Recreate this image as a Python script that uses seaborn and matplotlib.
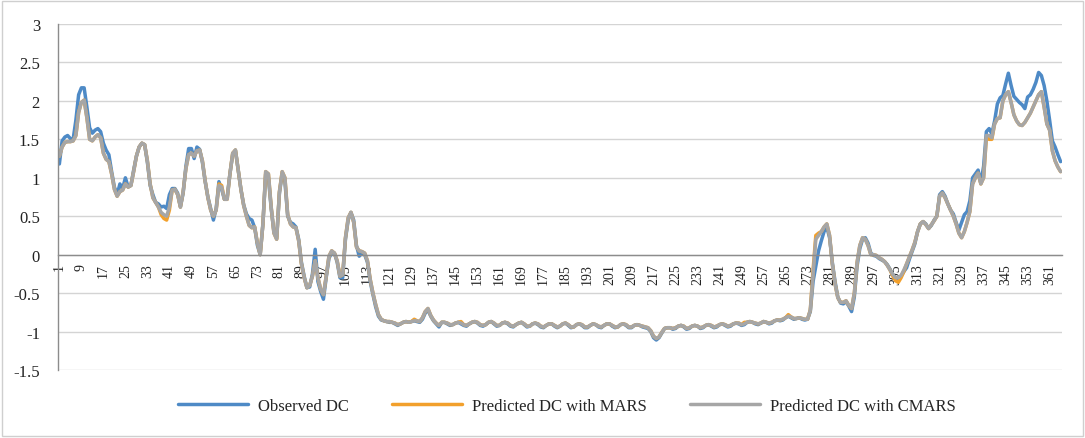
import numpy as np
import pandas as pd
import seaborn as sns
import matplotlib.pyplot as plt
from matplotlib.patches import Rectangle

# Daily discharge coefficient, days 1..365
days = list(range(1, 366))

observed = [
    1.18, 1.48, 1.53, 1.55, 1.51, 1.50, 1.75, 2.08,
    2.17, 2.17, 1.92, 1.65, 1.58, 1.62, 1.64, 1.60,
    1.45, 1.36, 1.30, 1.08, 0.88, 0.78, 0.92, 0.86,
    1.00, 0.88, 0.90, 1.10, 1.28, 1.40, 1.45, 1.43,
    1.20, 0.90, 0.78, 0.68, 0.66, 0.62, 0.63, 0.60,
    0.78, 0.86, 0.86, 0.80, 0.62, 0.80, 1.15, 1.38,
    1.38, 1.25, 1.40, 1.37, 1.20, 0.95, 0.75, 0.60,
    0.45, 0.60, 0.95, 0.85, 0.72, 0.75, 1.05, 1.30,
    1.36, 1.10, 0.85, 0.65, 0.53, 0.47, 0.45, 0.35,
    0.12, 0.00, 0.40, 1.05, 1.00, 0.60, 0.30, 0.22,
    0.80, 1.05, 0.95, 0.50, 0.42, 0.40, 0.36, 0.20,
    -0.10, -0.28, -0.43, -0.42, -0.25, 0.07, -0.35, -0.48,
    -0.58, -0.30, -0.05, 0.03, 0.02, -0.10, -0.30, -0.30,
    0.20, 0.45, 0.55, 0.45, 0.12, -0.02, 0.02, 0.00,
    -0.10, -0.35, -0.52, -0.68, -0.80, -0.85, -0.86, -0.87,
    -0.88, -0.88, -0.90, -0.92, -0.90, -0.88, -0.87, -0.88,
    -0.87, -0.86, -0.87, -0.88, -0.84, -0.76, -0.72, -0.80,
    -0.86, -0.90, -0.94, -0.88, -0.88, -0.90, -0.92, -0.91,
    -0.89, -0.88, -0.90, -0.92, -0.93, -0.90, -0.88, -0.87,
    -0.89, -0.92, -0.93, -0.91, -0.88, -0.87, -0.90, -0.93,
    -0.92, -0.89, -0.88, -0.90, -0.93, -0.94, -0.91, -0.89,
    -0.88, -0.91, -0.94, -0.93, -0.90, -0.89, -0.91, -0.94,
    -0.95, -0.92, -0.90, -0.90, -0.93, -0.95, -0.93, -0.90,
    -0.89, -0.92, -0.95, -0.94, -0.91, -0.90, -0.92, -0.95,
    -0.95, -0.92, -0.90, -0.91, -0.94, -0.95, -0.92, -0.90,
    -0.90, -0.93, -0.95, -0.94, -0.91, -0.90, -0.92, -0.95,
    -0.95, -0.92, -0.91, -0.92, -0.94, -0.95, -0.96, -1.00,
    -1.08, -1.11, -1.08, -1.02, -0.96, -0.95, -0.95, -0.97,
    -0.96, -0.93, -0.92, -0.94, -0.97, -0.96, -0.93, -0.92,
    -0.93, -0.96, -0.95, -0.92, -0.91, -0.93, -0.95, -0.94,
    -0.91, -0.90, -0.92, -0.94, -0.93, -0.90, -0.89, -0.90,
    -0.92, -0.91, -0.88, -0.87, -0.88, -0.90, -0.91, -0.89,
    -0.87, -0.88, -0.90, -0.89, -0.86, -0.85, -0.86, -0.85,
    -0.82, -0.80, -0.82, -0.84, -0.83, -0.82, -0.84, -0.85,
    -0.84, -0.74, -0.35, -0.15, 0.05, 0.18, 0.30, 0.36,
    0.22, -0.10, -0.35, -0.55, -0.63, -0.64, -0.61, -0.67,
    -0.74, -0.55, -0.15, 0.08, 0.20, 0.22, 0.15, 0.02,
    -0.01, -0.02, -0.05, -0.07, -0.09, -0.13, -0.19, -0.26,
    -0.30, -0.32, -0.28, -0.22, -0.17, -0.06, 0.04, 0.14,
    0.30, 0.40, 0.43, 0.40, 0.34, 0.38, 0.45, 0.50,
    0.78, 0.82, 0.76, 0.66, 0.58, 0.53, 0.42, 0.32,
    0.42, 0.52, 0.56, 0.70, 1.00, 1.05, 1.10, 0.93,
    1.15, 1.60, 1.64, 1.57, 1.74, 1.96, 2.04, 2.07,
    2.22, 2.36, 2.20, 2.06, 2.02, 1.98, 1.95, 1.90,
    2.05, 2.08, 2.15, 2.24, 2.37, 2.33, 2.20, 2.00,
    1.75, 1.48, 1.40, 1.30, 1.21,
]

mars = [
    1.28, 1.40, 1.46, 1.47, 1.47, 1.48, 1.55, 1.85,
    1.98, 2.01, 1.78, 1.50, 1.48, 1.53, 1.56, 1.52,
    1.32, 1.24, 1.21, 1.05, 0.85, 0.76, 0.82, 0.84,
    0.92, 0.88, 0.90, 1.08, 1.28, 1.40, 1.45, 1.43,
    1.22, 0.92, 0.74, 0.68, 0.62, 0.52, 0.47, 0.45,
    0.58, 0.84, 0.85, 0.78, 0.62, 0.82, 1.12, 1.30,
    1.32, 1.28, 1.35, 1.36, 1.22, 0.96, 0.74, 0.58,
    0.50, 0.58, 0.92, 0.90, 0.72, 0.72, 1.05, 1.32,
    1.36, 1.10, 0.85, 0.64, 0.50, 0.38, 0.35, 0.36,
    0.15, 0.00, 0.40, 1.08, 1.05, 0.62, 0.28, 0.20,
    0.82, 1.08, 1.00, 0.52, 0.40, 0.36, 0.35, 0.18,
    -0.12, -0.30, -0.43, -0.40, -0.28, -0.08, -0.30, -0.45,
    -0.52, -0.28, -0.02, 0.05, 0.02, -0.08, -0.28, -0.26,
    0.22, 0.48, 0.55, 0.42, 0.10, 0.05, 0.04, 0.02,
    -0.08, -0.32, -0.50, -0.65, -0.78, -0.84, -0.86, -0.87,
    -0.87, -0.88, -0.89, -0.91, -0.90, -0.88, -0.87, -0.88,
    -0.87, -0.84, -0.86, -0.87, -0.82, -0.74, -0.70, -0.79,
    -0.85, -0.89, -0.92, -0.88, -0.88, -0.89, -0.91, -0.91,
    -0.89, -0.88, -0.87, -0.91, -0.92, -0.90, -0.88, -0.87,
    -0.88, -0.91, -0.92, -0.91, -0.88, -0.87, -0.89, -0.92,
    -0.92, -0.89, -0.88, -0.89, -0.92, -0.93, -0.91, -0.89,
    -0.88, -0.90, -0.93, -0.93, -0.90, -0.89, -0.90, -0.93,
    -0.94, -0.92, -0.90, -0.90, -0.92, -0.94, -0.93, -0.90,
    -0.89, -0.91, -0.94, -0.94, -0.91, -0.90, -0.91, -0.94,
    -0.94, -0.92, -0.90, -0.91, -0.93, -0.94, -0.92, -0.90,
    -0.90, -0.92, -0.94, -0.94, -0.91, -0.90, -0.91, -0.94,
    -0.94, -0.92, -0.91, -0.92, -0.93, -0.94, -0.95, -0.99,
    -1.06, -1.09, -1.07, -1.01, -0.96, -0.95, -0.95, -0.96,
    -0.95, -0.93, -0.92, -0.93, -0.96, -0.95, -0.93, -0.92,
    -0.93, -0.95, -0.94, -0.92, -0.91, -0.92, -0.94, -0.93,
    -0.91, -0.90, -0.91, -0.93, -0.92, -0.90, -0.89, -0.89,
    -0.91, -0.88, -0.88, -0.87, -0.88, -0.89, -0.90, -0.89,
    -0.87, -0.88, -0.89, -0.88, -0.86, -0.85, -0.85, -0.84,
    -0.82, -0.78, -0.81, -0.83, -0.83, -0.82, -0.83, -0.84,
    -0.84, -0.72, -0.20, 0.25, 0.28, 0.30, 0.36, 0.40,
    0.25, -0.12, -0.38, -0.56, -0.62, -0.62, -0.60, -0.66,
    -0.70, -0.50, -0.10, 0.12, 0.22, 0.20, 0.12, 0.00,
    0.00, -0.01, -0.04, -0.06, -0.09, -0.14, -0.20, -0.28,
    -0.34, -0.36, -0.30, -0.22, -0.12, -0.03, 0.06, 0.16,
    0.30, 0.40, 0.43, 0.39, 0.34, 0.39, 0.44, 0.50,
    0.76, 0.80, 0.74, 0.66, 0.58, 0.50, 0.40, 0.28,
    0.22, 0.30, 0.42, 0.56, 0.92, 1.00, 1.06, 0.92,
    1.00, 1.52, 1.50, 1.50, 1.70, 1.77, 1.78, 2.00,
    2.08, 2.12, 1.98, 1.82, 1.74, 1.69, 1.68, 1.72,
    1.78, 1.84, 1.92, 2.00, 2.08, 2.12, 1.92, 1.70,
    1.62, 1.35, 1.22, 1.14, 1.08,
]

cmars = [
    1.28, 1.40, 1.46, 1.47, 1.47, 1.48, 1.55, 1.85,
    1.98, 2.01, 1.78, 1.50, 1.48, 1.53, 1.56, 1.52,
    1.32, 1.24, 1.21, 1.05, 0.85, 0.76, 0.82, 0.84,
    0.92, 0.88, 0.90, 1.08, 1.28, 1.40, 1.45, 1.43,
    1.22, 0.92, 0.74, 0.68, 0.62, 0.55, 0.52, 0.50,
    0.62, 0.84, 0.85, 0.78, 0.62, 0.82, 1.12, 1.30,
    1.32, 1.28, 1.35, 1.36, 1.22, 0.96, 0.74, 0.58,
    0.50, 0.58, 0.90, 0.88, 0.72, 0.72, 1.05, 1.32,
    1.36, 1.10, 0.85, 0.64, 0.50, 0.38, 0.35, 0.36,
    0.15, 0.00, 0.40, 1.08, 1.05, 0.62, 0.28, 0.20,
    0.82, 1.08, 1.00, 0.52, 0.40, 0.36, 0.35, 0.18,
    -0.12, -0.30, -0.43, -0.40, -0.28, -0.08, -0.30, -0.45,
    -0.52, -0.28, -0.02, 0.05, 0.02, -0.08, -0.28, -0.26,
    0.22, 0.48, 0.55, 0.42, 0.10, 0.05, 0.04, 0.02,
    -0.08, -0.32, -0.50, -0.65, -0.78, -0.84, -0.86, -0.87,
    -0.87, -0.88, -0.89, -0.91, -0.90, -0.88, -0.87, -0.88,
    -0.87, -0.86, -0.86, -0.87, -0.82, -0.74, -0.70, -0.79,
    -0.85, -0.89, -0.92, -0.88, -0.88, -0.89, -0.91, -0.91,
    -0.89, -0.88, -0.89, -0.91, -0.92, -0.90, -0.88, -0.87,
    -0.88, -0.91, -0.92, -0.91, -0.88, -0.87, -0.89, -0.92,
    -0.92, -0.89, -0.88, -0.89, -0.92, -0.93, -0.91, -0.89,
    -0.88, -0.90, -0.93, -0.93, -0.90, -0.89, -0.90, -0.93,
    -0.94, -0.92, -0.90, -0.90, -0.92, -0.94, -0.93, -0.90,
    -0.89, -0.91, -0.94, -0.94, -0.91, -0.90, -0.91, -0.94,
    -0.94, -0.92, -0.90, -0.91, -0.93, -0.94, -0.92, -0.90,
    -0.90, -0.92, -0.94, -0.94, -0.91, -0.90, -0.91, -0.94,
    -0.94, -0.92, -0.91, -0.92, -0.93, -0.94, -0.95, -0.99,
    -1.06, -1.09, -1.07, -1.01, -0.96, -0.95, -0.95, -0.96,
    -0.95, -0.93, -0.92, -0.93, -0.96, -0.95, -0.93, -0.92,
    -0.93, -0.95, -0.94, -0.92, -0.91, -0.92, -0.94, -0.93,
    -0.91, -0.90, -0.91, -0.93, -0.92, -0.90, -0.89, -0.89,
    -0.91, -0.90, -0.88, -0.87, -0.88, -0.89, -0.90, -0.89,
    -0.87, -0.88, -0.89, -0.88, -0.86, -0.85, -0.85, -0.84,
    -0.82, -0.80, -0.81, -0.83, -0.83, -0.82, -0.83, -0.84,
    -0.84, -0.72, -0.25, 0.20, 0.25, 0.30, 0.36, 0.40,
    0.25, -0.12, -0.38, -0.56, -0.62, -0.62, -0.60, -0.66,
    -0.70, -0.50, -0.10, 0.12, 0.22, 0.20, 0.12, 0.00,
    0.00, -0.01, -0.04, -0.06, -0.09, -0.14, -0.20, -0.26,
    -0.30, -0.30, -0.27, -0.20, -0.12, -0.03, 0.06, 0.16,
    0.30, 0.40, 0.43, 0.39, 0.34, 0.39, 0.44, 0.50,
    0.76, 0.80, 0.74, 0.66, 0.58, 0.50, 0.40, 0.28,
    0.22, 0.30, 0.42, 0.56, 0.92, 1.00, 1.06, 0.92,
    1.00, 1.55, 1.55, 1.52, 1.70, 1.77, 1.78, 2.00,
    2.08, 2.12, 1.98, 1.82, 1.74, 1.69, 1.68, 1.72,
    1.78, 1.84, 1.92, 2.00, 2.08, 2.12, 1.92, 1.70,
    1.62, 1.35, 1.22, 1.14, 1.08,
]

series_names = ["Observed DC", "Predicted DC with MARS", "Predicted DC with CMARS"]
series_colors = ["#4E8AC6", "#F2A02C", "#A6A6A6"]
y_ticks = [-1.5, -1, -0.5, 0, 0.5, 1, 1.5, 2, 2.5, 3]
x_tick_days = list(range(1, 366, 8))

assert len(observed) == len(mars) == len(cmars) == len(days)

df = pd.DataFrame({
    "day": days * 3,
    "DC": observed + mars + cmars,
    "series": [s for s in series_names for _ in days],
})

sns.set_theme(style="white")
plt.rcParams["font.family"] = ["Liberation Serif", "DejaVu Serif"]
plt.rcParams["axes.unicode_minus"] = False

W, H = 1085, 439
fig = plt.figure(figsize=(W / 100, H / 100), dpi=100)
ax = fig.add_axes([58 / W, 1 - 371 / H, (1062 - 58) / W, (371 - 25) / H])

sns.lineplot(
    data=df, x="day", y="DC", hue="series", hue_order=series_names,
    palette=series_colors, linewidth=2.5, estimator=None, ax=ax,
)

ax.set_xlim(0.5, 365.5)
ax.set_ylim(-1.5, 3)
ax.set_xlabel("")
ax.set_ylabel("")

# horizontal gridlines
ax.set_yticks(y_ticks)
ax.set_yticklabels([f"{v:g}" for v in y_ticks])
ax.yaxis.grid(True, color="#d4d4d4", linewidth=1.0)
ax.xaxis.grid(False)
ax.set_axisbelow(True)
ax.tick_params(axis="y", length=3, width=0.8, color="#a0a0a0", pad=10,
               labelsize=12, labelcolor="#222222")

# category axis crossing at zero
ax.spines["bottom"].set_position(("data", 0))
for side in ("top", "right"):
    ax.spines[side].set_visible(False)
ax.spines["left"].set_color("#8c8c8c")
ax.spines["bottom"].set_color("#8c8c8c")
ax.spines["left"].set_linewidth(1.0)
ax.spines["bottom"].set_linewidth(1.0)

ax.set_xticks(x_tick_days)
ax.set_xticklabels([str(d) for d in x_tick_days], rotation=90)
ax.set_xticks(np.arange(0.5, 366, 1.0), minor=True)
ax.tick_params(axis="x", which="major", length=0, pad=6, labelsize=10,
               labelcolor="#222222")
ax.tick_params(axis="x", which="minor", length=4, width=0.7,
               color="#8f8f8f", direction="inout")

handles, labels = ax.get_legend_handles_labels()
ax.get_legend().remove()
fig.legend(handles, labels, loc="center", bbox_to_anchor=(567 / W, 1 - 407 / H),
           ncol=3, frameon=False, fontsize=12, handlelength=4.2,
           handletextpad=0.6, columnspacing=2.6)

# chart area border
fig.patches.append(Rectangle((2 / W, 2 / H), 1 - 4 / W, 1 - 4 / H,
                             transform=fig.transFigure, fill=False,
                             edgecolor="#cfcfcf", linewidth=1.0))

fig.savefig("out.png", dpi=100)
